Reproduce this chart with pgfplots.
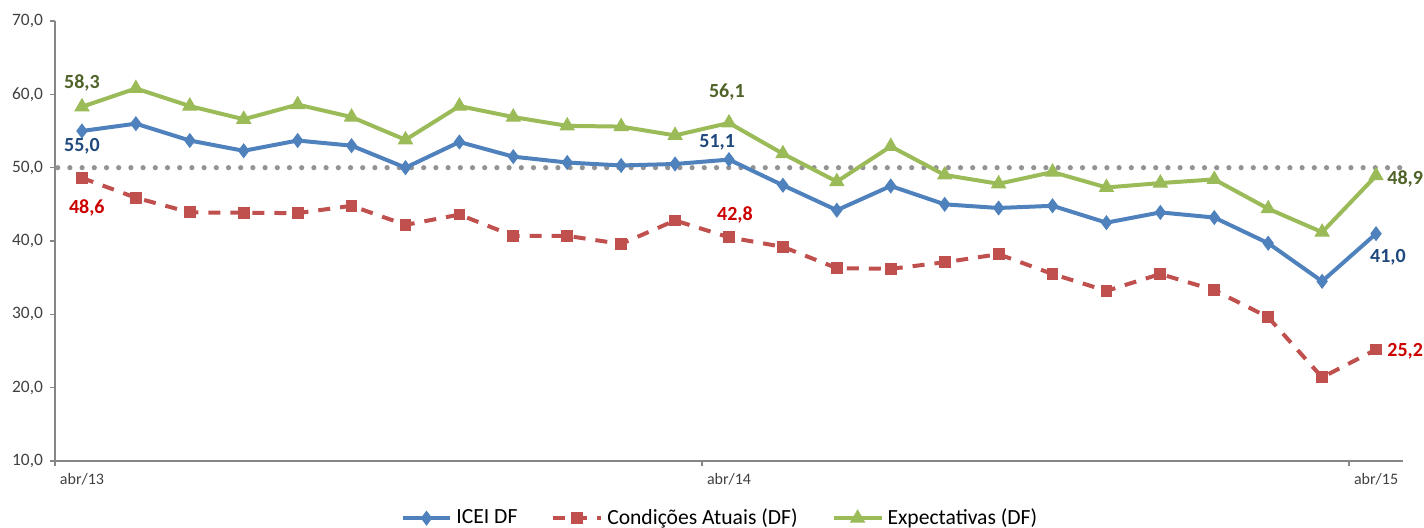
\documentclass[border=0pt]{standalone}
\usepackage{pgfplots}
\pgfplotsset{compat=1.18}
\usepackage{fontspec}
\setmainfont{Carlito}
\definecolor{cblue}{HTML}{4F81BD}
\definecolor{cred}{HTML}{C0504D}
\definecolor{cgreen}{HTML}{9BBB59}
\definecolor{lblue}{HTML}{1F497D}
\definecolor{lred}{HTML}{CC0000}
\definecolor{lgreen}{HTML}{4F6228}
\definecolor{axgray}{HTML}{868686}
\definecolor{txt}{HTML}{404040}
\begin{document}
\begin{tikzpicture}
\begin{axis}[
  name=ax,
  scale only axis,
  width=674pt, height=220pt,
  xmin=-0.5, xmax=24.5,
  ymin=10, ymax=70,
  axis x line=bottom, axis y line=left,
  axis line style={-, axgray, line width=0.6pt},
  xtick={-0.5,11.5,23.5},
  xticklabels={abr/13,abr/14,abr/15},
  xticklabel style={xshift=13.5pt, font=\fontsize{8}{9}\selectfont, text=txt},
  ytick={10,20,30,40,50,60,70},
  yticklabel style={font=\fontsize{8.7}{10}\selectfont, text=txt},
  /pgf/number format/.cd, fixed, fixed zerofill, precision=1, use comma, assume math mode=true,
  /pgfplots/.cd,
  tick align=outside,
  major tick length=2.5pt,
  tick style={axgray, line width=0.6pt},
  clip=false,
  legend columns=3,
  legend style={draw=none, fill=none, at={(0.494,-0.13)}, anchor=center,
    font=\fontsize{10.8}{12}\selectfont, text=black,
    /tikz/every even column/.append style={column sep=15pt}},
  legend image code/.code={\draw[mark repeat=2,mark phase=2] plot coordinates {(0cm,0cm)(0.42cm,0cm)(0.84cm,0cm)};},
]
\addplot[draw=gray!85, line width=2.6pt, dash pattern=on 0pt off 6.1pt, line cap=round, forget plot]
  coordinates {(-0.45,50)(24.6,50)};
\addplot[cblue, line width=2pt, mark=diamond*, mark size=3.4pt, mark options={solid, fill=cblue, line width=0.5pt}]
  coordinates {(0,55.0)(1,56.0)(2,53.7)(3,52.3)(4,53.7)(5,53.0)(6,50.0)(7,53.5)(8,51.5)(9,50.7)(10,50.3)(11,50.5)(12,51.1)(13,47.6)(14,44.2)(15,47.5)(16,45.0)(17,44.5)(18,44.8)(19,42.5)(20,43.9)(21,43.2)(22,39.7)(23,34.5)(24,41.0)};
\addlegendentry{ICEI DF}
\addplot[cred, line width=2pt, dash pattern=on 6pt off 5pt, mark=square*, mark size=2.7pt, mark options={solid, fill=cred, line width=0.5pt}]
  coordinates {(0,48.6)(1,45.9)(2,43.9)(3,43.85)(4,43.8)(5,44.8)(6,42.2)(7,43.6)(8,40.7)(9,40.7)(10,39.6)(11,42.8)(12,40.5)(13,39.2)(14,36.3)(15,36.2)(16,37.1)(17,38.2)(18,35.5)(19,33.2)(20,35.5)(21,33.3)(22,29.6)(23,21.4)(24,25.2)};
\addlegendentry{Condições Atuais (DF)}
\addplot[cgreen, line width=2pt, mark=triangle*, mark size=4pt, mark options={solid, fill=cgreen, line width=0.5pt}]
  coordinates {(0,58.3)(1,60.8)(2,58.4)(3,56.6)(4,58.6)(5,56.9)(6,53.8)(7,58.4)(8,56.9)(9,55.7)(10,55.6)(11,54.4)(12,56.1)(13,51.9)(14,48.1)(15,52.9)(16,49.0)(17,47.8)(18,49.4)(19,47.3)(20,47.9)(21,48.4)(22,44.4)(23,41.2)(24,48.9)};
\addlegendentry{Expectativas (DF)}
\begin{scope}[font=\fontsize{10}{12}\selectfont\bfseries]
\node[text=lgreen] at (axis cs:0.0,61.55) {58,3};
\node[text=lblue] at (axis cs:0.0,52.95) {55,0};
\node[text=lred] at (axis cs:0.09,44.5) {48,6};
\node[text=lgreen] at (axis cs:11.96,60.3) {56,1};
\node[text=lblue] at (axis cs:11.78,53.4) {51,1};
\node[text=lred] at (axis cs:12.11,43.5) {42,8};
\node[text=lgreen] at (axis cs:24.54,48.45) {48,9};
\node[text=lblue] at (axis cs:24.22,37.8) {41,0};
\node[text=lred] at (axis cs:24.54,24.9) {25,2};
\end{scope}
\end{axis}
\pgfresetboundingbox
\path[use as bounding box] ([xshift=-27.5pt,yshift=-33.5pt]ax.south west) rectangle ([xshift=10.5pt,yshift=10.5pt]ax.north east);
\end{tikzpicture}
\end{document}
